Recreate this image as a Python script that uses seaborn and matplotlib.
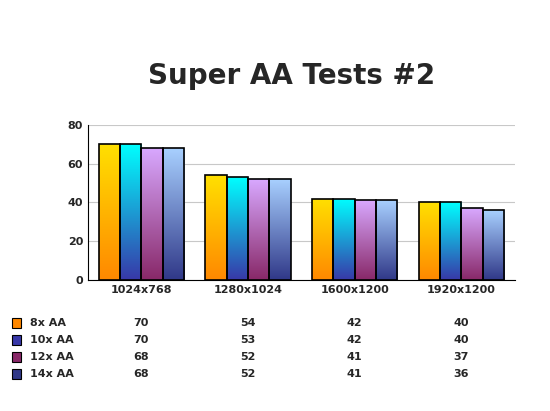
import matplotlib.pyplot as plt
import matplotlib.transforms as mtransforms
from matplotlib.colors import LinearSegmentedColormap
import seaborn as sns
import pandas as pd
import numpy as np

resolutions = ["1024x768", "1280x1024", "1600x1200", "1920x1200"]
series = ["8x AA", "10x AA", "12x AA", "14x AA"]
aa8 = [70, 54, 42, 40]
aa10 = [70, 53, 42, 40]
aa12 = [68, 52, 41, 37]
aa14 = [68, 52, 41, 36]

# top colour, bottom colour
grads = [("#FFE000", "#FF8800"), ("#00FFFF", "#3838A8"),
         ("#D8A8FF", "#882868"), ("#A8D0FF", "#303888")]

df = pd.DataFrame({
    "res": resolutions * 4,
    "series": [s for s in series for _ in resolutions],
    "val": aa8 + aa10 + aa12 + aa14,
})

sns.set_style("white")
fig = plt.figure(figsize=(5.5, 4.11), dpi=100)
ax = fig.add_axes([0.16, 0.319, 0.776, 0.377])
sns.barplot(data=df, x="res", y="val", hue="series", order=resolutions,
            hue_order=series, width=0.8, edgecolor="black", linewidth=1.2,
            legend=False, ax=ax)

ax.set_ylim(0, 80)
ax.set_yticks([0, 20, 40, 60, 80])
ax.yaxis.grid(True, color="#c8c8c8", linewidth=0.8)
ax.set_axisbelow(True)
for s in ["top", "right"]:
    ax.spines[s].set_visible(False)
ax.spines["left"].set_color("black")
ax.spines["bottom"].set_color("black")
ax.tick_params(axis="y", length=0, labelsize=8)
ax.tick_params(axis="x", length=0, labelsize=8)
for t in ax.get_yticklabels() + ax.get_xticklabels():
    t.set_fontweight("bold")
ax.set_xlabel("")
ax.set_ylabel("")

# gradient fill
grad = np.linspace(1, 0, 256).reshape(-1, 1)
for i, (top, bot) in enumerate(grads):
    cmap = LinearSegmentedColormap.from_list(f"g{i}", [bot, top])
    for p in ax.containers[i].patches:
        x0, y0 = p.get_x(), p.get_y()
        w, h = p.get_width(), p.get_height()
        p.set_facecolor("none")
        p.set_zorder(3)
        im = ax.imshow(grad, cmap=cmap, extent=[x0, x0 + w, y0, y0 + h],
                       aspect="auto", zorder=2, vmin=0, vmax=1)
        im.set_clip_path(p)
ax.set_xlim(-0.5, 3.5)
ax.set_ylim(0, 80)

fig.text(0.53, 0.815, "Super AA Tests #2", ha="center", va="center",
         fontsize=20, fontweight="bold")

# data table
trans = mtransforms.blended_transform_factory(ax.transData, fig.transFigure)
rows_y = [1 - 323 / 411, 1 - 340 / 411, 1 - 357 / 411, 1 - 374 / 411]
for i, (name, vals) in enumerate(zip(series, [aa8, aa10, aa12, aa14])):
    y = rows_y[i]
    fig.patches.append(plt.Rectangle((0.022, y - 0.011), 0.016, 0.022,
                                     transform=fig.transFigure,
                                     facecolor=grads[i][1], edgecolor="black",
                                     linewidth=0.8))
    fig.text(0.055, y, name, ha="left", va="center", fontsize=8,
             fontweight="bold")
    for j, v in enumerate(vals):
        ax.text(j, y, str(v), transform=trans, ha="center", va="center",
                fontsize=8, fontweight="bold")

fig.savefig("out.png", dpi=100)
